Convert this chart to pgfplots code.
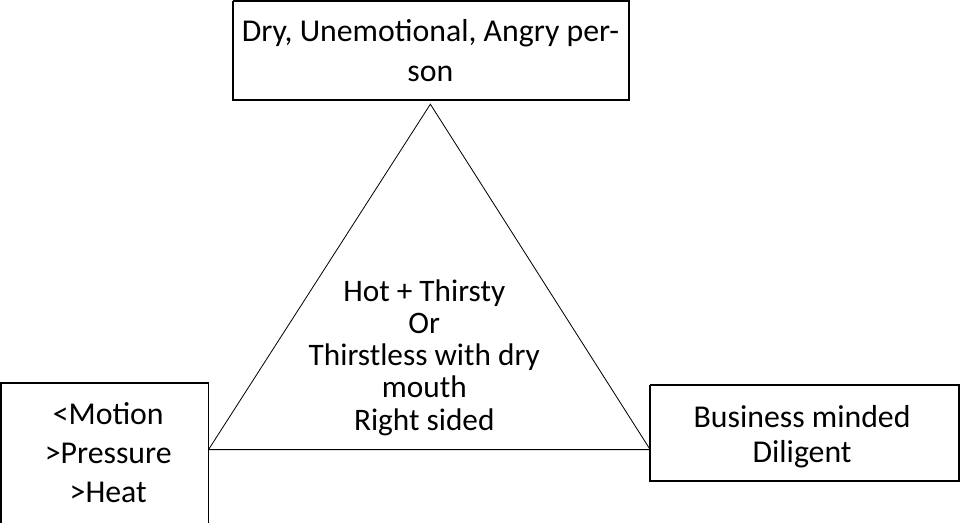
\documentclass[border=0pt]{standalone}
\usepackage{fontspec}
\setmainfont{Carlito}
\usepackage{pgfplots}
\pgfplotsset{compat=1.18}
\begin{document}
\begin{tikzpicture}
\begin{axis}[width=960bp,height=521bp,scale only axis,
  xmin=0,xmax=960,ymin=0,ymax=521,y dir=reverse,hide axis,clip=true]
% top box
\addplot[black,line width=1.7bp,line join=miter] coordinates {(236,6)(627,6)(627,104)(236,104)(236,6)};
% left box (runs off the bottom)
\addplot[black,line width=1.7bp,line join=miter] coordinates {(7,540)(7,383)(212,383)(212,540)};
% right box
\addplot[black,line width=1.7bp,line join=miter] coordinates {(648,385)(953,385)(953,480)(648,480)(648,385)};
% triangle
\addplot[black,line width=0.8bp,line join=miter] coordinates {(212,449)(431,108)(648,449)(212,449)};
\node[align=center,font=\fontsize{31.5}{40}\selectfont] at (axis cs:431,55) {Dry, Unemotional, Angry per-\\son};
\node[align=center,font=\fontsize{31}{32}\selectfont] at (axis cs:425,358) {Hot + Thirsty\\Or\\Thirstless with dry\\mouth\\Right sided};
\node[align=center,font=\fontsize{31.5}{39}\selectfont] at (axis cs:113,452) {<Motion\\>Pressure\\>Heat};
\node[align=center,font=\fontsize{31.5}{35}\selectfont] at (axis cs:798,436) {Business minded\\Diligent};
\end{axis}
\end{tikzpicture}
\end{document}
